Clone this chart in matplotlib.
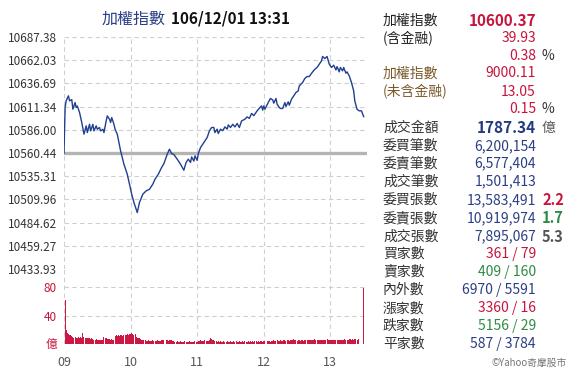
import matplotlib
matplotlib.use('Agg')
import matplotlib.pyplot as plt

plt.rcParams['font.family'] = ['Noto Sans CJK TC', 'DejaVu Sans']

# ---------------- data ----------------
prev_close = 10560.44
y_ticks = [10687.38, 10662.03, 10636.69, 10611.34, 10586.00, 10560.44,
           10535.31, 10509.96, 10484.62, 10459.27, 10433.93]
hour_labels = ['09', '10', '11', '12', '13']
hour_minutes = [0, 60, 120, 180, 240]
vol_ticks = [0, 40, 80]
vol_tick_labels = ['億', '40', '80']

price_minutes = [0, 1, 2, 4, 5, 7, 8, 10, 11, 12, 14, 16, 18, 20, 21, 23, 24, 26, 27, 29,
                 30, 32, 33, 35, 36, 38, 39, 41, 42, 43, 45, 46, 48, 51, 54, 57, 59, 61, 63, 66,
                 68, 71, 74, 77, 80, 82, 85, 88, 90, 93, 95, 97, 99, 102, 105, 108, 110, 112, 114, 115,
                 117, 118, 120, 121, 123, 126, 129, 131, 133, 135, 136, 138, 139, 141, 143, 145, 147, 148, 150, 152,
                 154, 156, 158, 160, 163, 165, 167, 169, 171, 174, 176, 178, 179, 180, 181, 184, 186, 188, 189, 191,
                 192, 194, 195, 197, 199, 200, 202, 203, 205, 207, 209, 211, 212, 215, 217, 219, 221, 224, 226, 228,
                 230, 232, 233, 235, 237, 239, 241, 243, 245, 246, 248, 249, 251, 252, 254, 255, 257, 259, 261, 262,
                 264, 266, 268, 270]
price_values = [10560.44, 10610.4, 10618.0, 10623.1, 10617.6, 10619.0, 10608.5, 10615.8, 10610.4, 10612.0,
                10604.9, 10594.0, 10581.2, 10590.3, 10583.0, 10592.1, 10584.8, 10592.0, 10584.8, 10590.3,
                10586.6, 10588.5, 10584.8, 10586.6, 10583.0, 10595.7, 10601.2, 10597.5, 10594.0, 10599.4,
                10592.1, 10586.7, 10581.2, 10563.0, 10548.4, 10537.5, 10526.6, 10515.6, 10506.6, 10495.6,
                10506.6, 10515.6, 10519.3, 10521.0, 10526.6, 10532.0, 10537.5, 10545.0, 10549.0, 10559.3,
                10564.8, 10560.0, 10559.0, 10553.9, 10548.4, 10541.9, 10550.3, 10553.9, 10550.3, 10556.4,
                10551.8, 10557.5, 10552.6, 10560.0, 10566.6, 10572.1, 10577.6, 10584.8, 10588.5, 10588.5,
                10583.0, 10586.7, 10582.0, 10586.7, 10585.0, 10589.2, 10586.7, 10591.4, 10588.5, 10592.0,
                10589.2, 10592.9, 10588.5, 10595.7, 10597.6, 10600.1, 10598.5, 10603.8, 10601.5, 10606.7,
                10609.6, 10612.1, 10607.5, 10612.1, 10608.5, 10615.8, 10620.2, 10618.7, 10615.1, 10620.2,
                10614.0, 10610.4, 10609.3, 10609.3, 10615.8, 10611.5, 10616.5, 10612.9, 10619.4, 10623.0,
                10626.8, 10628.5, 10634.0, 10637.7, 10642.1, 10644.2, 10644.2, 10649.3, 10652.2, 10654.1,
                10657.7, 10661.3, 10666.1, 10663.9, 10666.1, 10657.7, 10654.1, 10656.6, 10651.4, 10655.0,
                10649.3, 10654.1, 10650.4, 10654.1, 10647.8, 10649.3, 10644.9, 10637.7, 10628.5, 10617.6,
                10608.5, 10606.7, 10606.7, 10600.37]

volume = [0, 62, 19, 16, 14, 13, 12, 11, 10, 9,
          10, 9, 9, 10, 9, 10, 9, 16, 10, 9,
          8, 9, 8, 8, 7, 8, 7, 6, 6, 7,
          6, 6, 5, 6, 6, 6, 10, 9, 8, 7,
          7, 7, 6, 7, 6, 5, 11, 12, 11, 12,
          11, 12, 12, 11, 12, 12, 13, 14, 13, 14,
          14, 15, 14, 13, 14, 10, 9, 8, 8, 7,
          6, 6, 5, 5, 4, 4, 5, 4, 4, 4,
          5, 4, 4, 4, 5, 4, 4, 4, 5, 5,
          6, 5, 5, 5, 4, 5, 5, 5, 4, 4,
          3, 3, 4, 3, 3, 4, 3, 3, 3, 4,
          3, 3, 3, 4, 3, 3, 3, 3, 4, 3,
          3, 4, 4, 5, 4, 4, 4, 5, 4, 4,
          4, 5, 8, 7, 6, 5, 4, 4, 3, 4,
          3, 4, 3, 3, 4, 3, 3, 4, 3, 3,
          4, 3, 3, 4, 3, 4, 3, 3, 4, 3,
          3, 4, 3, 4, 3, 3, 4, 3, 4, 3,
          4, 3, 4, 4, 3, 4, 3, 4, 4, 3,
          4, 4, 3, 4, 4, 4, 3, 4, 4, 5,
          4, 4, 5, 4, 4, 5, 4, 4, 5, 5,
          4, 5, 5, 4, 5, 6, 6, 7, 5, 5,
          4, 5, 5, 4, 5, 5, 4, 5, 5, 5,
          5, 6, 5, 5, 6, 6, 7, 6, 5, 5,
          5, 6, 5, 5, 6, 5, 6, 7, 6, 5,
          5, 5, 6, 5, 5, 6, 5, 5, 6, 6,
          5, 6, 6, 7, 6, 6, 6, 7, 7, 6,
          7, 6, 7, 7, 6, 7, 0, 0, 0, 0,
          78]
volume_minutes = list(range(len(volume)))

title_name = '加權指數'
title_time = '106/12/01 13:31'

# right panel rows: (label, label_color, value, value_color, value_bold, extra, extra_color, extra_bold)
panel_rows = [
    ('加權指數', '#222222', '10600.37', '#c8143c', True, '', '#333333', False),
    ('(含金融)', '#222222', '39.93', '#c8143c', False, '', '#333333', False),
    ('', '#222222', '0.38', '#c8143c', False, '%', '#333333', False),
    ('加權指數', '#7b5a2a', '9000.11', '#c8143c', False, '', '#333333', False),
    ('(未含金融)', '#7b5a2a', '13.05', '#c8143c', False, '', '#333333', False),
    ('', '#222222', '0.15', '#c8143c', False, '%', '#333333', False),
    ('成交金額', '#333333', '1787.34', '#243a80', True, '億', '#555555', False),
    ('委買筆數', '#333333', '6,200,154', '#2c3e84', False, '', '#333333', False),
    ('委賣筆數', '#333333', '6,577,404', '#2c3e84', False, '', '#333333', False),
    ('成交筆數', '#333333', '1,501,413', '#2c3e84', False, '', '#333333', False),
    ('委買張數', '#333333', '13,583,491', '#2c3e84', False, '2.2', '#c8143c', True),
    ('委賣張數', '#333333', '10,919,974', '#2c3e84', False, '1.7', '#2e8b44', True),
    ('成交張數', '#333333', '7,895,067', '#2c3e84', False, '5.3', '#555555', True),
    ('買家數', '#333333', '361 / 79', '#c8143c', False, '', '#333333', False),
    ('賣家數', '#333333', '409 / 160', '#2e8b44', False, '', '#333333', False),
    ('內外數', '#333333', '6970 / 5591', '#2c3e84', False, '', '#333333', False),
    ('漲家數', '#333333', '3360 / 16', '#c8143c', False, '', '#333333', False),
    ('跌家數', '#333333', '5156 / 29', '#2e8b44', False, '', '#333333', False),
    ('平家數', '#333333', '587 / 3784', '#2c3e84', False, '', '#333333', False),
]
panel_y = [20.7, 38.3, 56, 73.3, 91.7, 109.3, 128.3, 146, 163.3, 181.7,
           200, 218.3, 236.7, 254, 271.7, 290, 308.3, 326, 344]
credit = '©Yahoo奇摩股市'

# ---------------- figure ----------------
W, H = 579, 376
fig = plt.figure(figsize=(W / 100, H / 100), dpi=100)
fig.patch.set_facecolor('white')


def fx(px):
    return px / W


def fy(py):
    return 1 - py / H


grid_kw = dict(color='#cfcfcf', linestyle=(0, (4, 3)), linewidth=0.8)
xmax = 273

ax = fig.add_axes([fx(64), fy(269), fx(367) - fx(64), fy(37) - fy(269)])
ax.set_xlim(0, xmax)
ax.set_ylim(y_ticks[-1], y_ticks[0])
ax.set_yticks(y_ticks)
ax.set_yticklabels(['%.2f' % v for v in y_ticks])
ax.set_xticks(hour_minutes)
ax.set_xticklabels([])
ax.grid(True, **grid_kw)
ax.set_axisbelow(True)
for s in ax.spines.values():
    s.set_visible(False)
ax.tick_params(length=0, labelsize=8.5, labelcolor='#333333', pad=5)
ax.axhline(prev_close, color='#b4b4b4', linewidth=2.4, zorder=2)
ax.plot(price_minutes, price_values, color='#1f3f8f', linewidth=1.0, zorder=3)

vax = fig.add_axes([fx(64), fy(344), fx(367) - fx(64), fy(269) - fy(344)])
vax.set_xlim(0, xmax)
vax.set_ylim(0, 105.3)
vax.set_yticks(vol_ticks)
vax.set_yticklabels(vol_tick_labels)
vax.set_xticks(hour_minutes)
vax.set_xticklabels(hour_labels)
vax.grid(True, **grid_kw)
vax.set_axisbelow(True)
for s in vax.spines.values():
    s.set_visible(False)
vax.tick_params(axis='y', length=0, labelsize=8.5, labelcolor='#c8143c', pad=5)
vax.tick_params(axis='x', length=0, labelsize=9, labelcolor='#555555', pad=9)
vax.bar(volume_minutes, volume, width=0.9, color='#cc1845', linewidth=0, zorder=3)

# title
fig.text(fx(166), fy(19), title_name, ha='right', va='center', fontsize=11.5, color='#2a3f86')
fig.text(fx(171), fy(19), title_time, ha='left', va='center', fontsize=11, color='#111111',
         fontweight='bold')

# right panel
for (lab, lc, val, vc, vb, ext, ec, eb), y in zip(panel_rows, panel_y):
    if lab:
        fig.text(fx(383), fy(y), lab, ha='left', va='center', fontsize=10, color=lc)
    fig.text(fx(536), fy(y), val, ha='right', va='center',
             fontsize=11 if vb else 10, color=vc, fontweight='bold' if vb else 'normal')
    if ext:
        fig.text(fx(542), fy(y), ext, ha='left', va='center',
                 fontsize=10.5 if eb else 10, color=ec, fontweight='bold' if eb else 'normal')

fig.text(fx(567), fy(363), credit, ha='right', va='center', fontsize=7, color='#777777')

fig.savefig('out.png', dpi=100, facecolor='white')
